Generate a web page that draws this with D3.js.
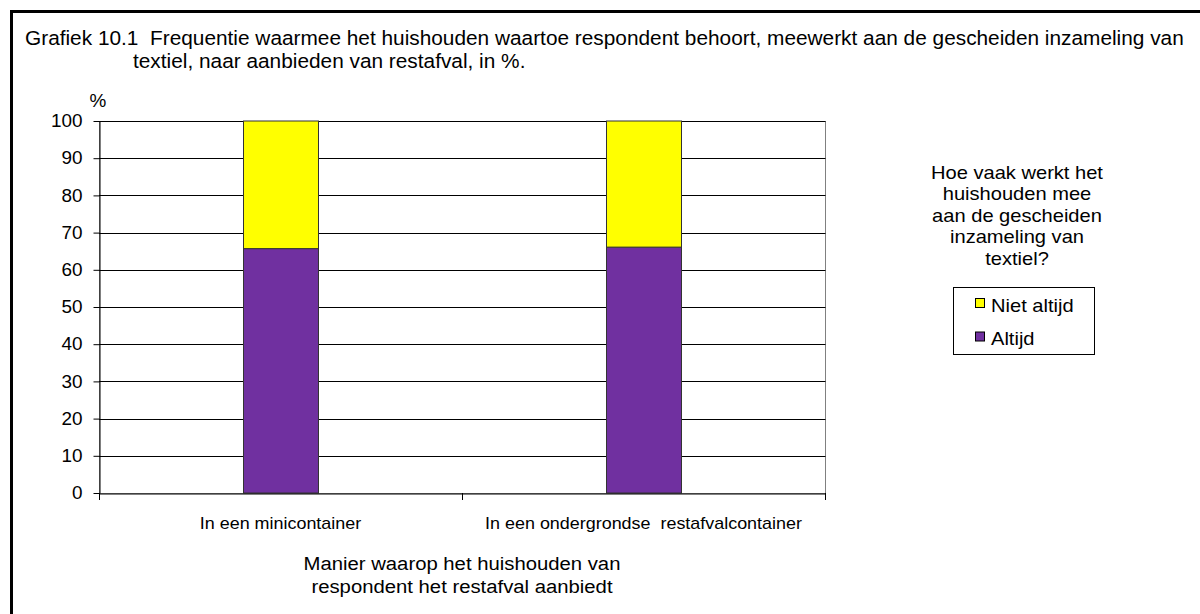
<!DOCTYPE html>
<html>
<head>
<meta charset="utf-8">
<script src="https://cdn.jsdelivr.net/npm/d3@7"></script>
<style>
  html, body { margin: 0; padding: 0; background: #fff; }
  svg { display: block; }
  text { font-family: "Liberation Sans", Arial, sans-serif; fill: #000; white-space: pre; }
</style>
</head>
<body>
<svg></svg>
<script>
var categories = ["In een minicontainer", "In een ondergrondse  restafvalcontainer"]
var altijd = [65.7, 66.1]
var nietAltijd = [34.3, 33.9]
var seriesNames = ["Altijd", "Niet altijd"]
var seriesColors = ["#7030a0", "#ffff00"]
var yTicks = [0, 10, 20, 30, 40, 50, 60, 70, 80, 90, 100]
var titleLines = [
  "Grafiek 10.1  Frequentie waarmee het huishouden waartoe respondent behoort, meewerkt aan de gescheiden inzameling van",
  "textiel, naar aanbieden van restafval, in %."
]
var xTitleLines = ["Manier waarop het huishouden van", "respondent het restafval aanbiedt"]
var legendTitleLines = ["Hoe vaak werkt het", "huishouden mee", "aan de gescheiden", "inzameling van", "textiel?"]

var width = 1200
var height = 614
var stretchK = 1.08
var plot = {left: 99, top: 121, right: 825, bottom: 493}

// excel renders its text a bit wider than Arial
function stretch(sel) {
  sel.each(function () {
    var w = this.getComputedTextLength()
    d3.select(this).attr("textLength", w * stretchK).attr("lengthAdjust", "spacingAndGlyphs")
  })
}

const svg = d3.select("svg")
  .attr("width", width)
  .attr("height", height)
  .attr("viewBox", [0, 0, width, height]);

svg.append("rect").attr("width", width).attr("height", height).attr("fill", "#fff");

// outer frame (only top and left visible)
svg.append("path")
  .attr("d", `M11.5,${height + 5}V11.5H${width + 5}`)
  .attr("fill", "none")
  .attr("stroke", "#000")
  .attr("stroke-width", 3);

// title
svg.append("text").attr("x", 25).attr("y", 45).style("font-size", "19.3px").text(titleLines[0]).call(stretch);
svg.append("text").attr("x", 133).attr("y", 67.5).style("font-size", "19.3px").text(titleLines[1]).call(stretch);

const table = categories.map((c, i) => ({cat: c, "Altijd": altijd[i], "Niet altijd": nietAltijd[i]}));
const stacked = d3.stack().keys(seriesNames)(table);

const x = d3.scaleBand()
  .domain(categories)
  .range([plot.left, plot.right])
  .paddingInner(0.7934)
  .paddingOuter(0.3967);

const y = d3.scaleLinear()
  .domain([0, 100])
  .range([plot.bottom, plot.top]);

// plot area border
svg.append("rect")
  .attr("x", plot.left + 0.5).attr("y", plot.top + 0.5)
  .attr("width", plot.right - plot.left).attr("height", plot.bottom - plot.top)
  .attr("fill", "#fff")
  .attr("stroke", "#808080");

// gridlines
svg.append("g")
  .selectAll("line")
  .data(yTicks.filter(t => t > 0))
  .join("line")
  .attr("x1", plot.left).attr("x2", plot.right + 0.5)
  .attr("y1", d => Math.round(y(d)) + 0.5).attr("y2", d => Math.round(y(d)) + 0.5)
  .attr("stroke", "#000");

// bars
svg.append("g")
  .selectAll("g")
  .data(stacked)
  .join("g")
  .attr("fill", (d, i) => seriesColors[i])
  .selectAll("rect")
  .data(d => d.map(v => ({v: v, cat: v.data.cat})))
  .join("rect")
  .attr("x", d => Math.round(x(d.cat)) + 0.5)
  .attr("y", d => y(d.v[1]))
  .attr("width", x.bandwidth())
  .attr("height", d => y(d.v[0]) - y(d.v[1]))
  .attr("stroke", "#333")
  .attr("stroke-width", 1);

// y axis
const yAxis = svg.append("g")
  .attr("transform", `translate(${plot.left + 0.5},0)`)
  .call(d3.axisLeft(y).tickValues(yTicks).tickSize(6).tickPadding(11).tickSizeOuter(0));
yAxis.select(".domain").attr("stroke", "#000");
yAxis.selectAll(".tick line").attr("stroke", "#000");
yAxis.selectAll(".tick text")
  .attr("fill", "#000")
  .style("font-size", "17.5px")
  .style("font-family", "'Liberation Sans', Arial, sans-serif")
  .call(stretch);

svg.append("text").attr("x", 98).attr("y", 107).attr("text-anchor", "middle")
  .style("font-size", "17.5px").text("%").call(stretch);

// x axis
const xAxis = svg.append("g")
  .attr("transform", `translate(0,${plot.bottom + 0.5})`)
  .call(d3.axisBottom(x).tickSize(0).tickPadding(24));
xAxis.select(".domain").attr("stroke", "#000");
xAxis.selectAll(".tick text")
  .attr("fill", "#000")
  .style("font-size", "16.6px")
  .style("font-family", "'Liberation Sans', Arial, sans-serif")
  .call(stretch);

// category separators on the x axis
const sepX = [plot.left, (x(categories[0]) + x.bandwidth() + x(categories[1])) / 2, plot.right];
svg.append("g")
  .selectAll("line")
  .data(sepX)
  .join("line")
  .attr("x1", d => Math.round(d) + 0.5).attr("x2", d => Math.round(d) + 0.5)
  .attr("y1", plot.bottom).attr("y2", plot.bottom + 7)
  .attr("stroke", "#000");

// x axis title
svg.append("g")
  .selectAll("text")
  .data(xTitleLines)
  .join("text")
  .attr("x", (plot.left + plot.right) / 2)
  .attr("y", (d, i) => 570 + i * 23)
  .attr("text-anchor", "middle")
  .style("font-size", "18.8px")
  .text(d => d)
  .call(stretch);

// legend
const legendX = 1017;
svg.append("g")
  .selectAll("text")
  .data(legendTitleLines)
  .join("text")
  .attr("x", legendX)
  .attr("y", (d, i) => 178.5 + i * 21.5)
  .attr("text-anchor", "middle")
  .style("font-size", "18.6px")
  .text(d => d)
  .call(stretch);

svg.append("rect")
  .attr("x", 953.5).attr("y", 287.5)
  .attr("width", 141).attr("height", 67)
  .attr("fill", "#fff").attr("stroke", "#000");

const legendItems = seriesNames.map((s, i) => ({name: s, color: seriesColors[i]})).reverse();
const li = svg.append("g")
  .selectAll("g")
  .data(legendItems)
  .join("g")
  .attr("transform", (d, i) => `translate(975,${298 + i * 33.5})`);
li.append("rect")
  .attr("x", 0.5).attr("y", 0.5)
  .attr("width", 9).attr("height", 9)
  .attr("fill", d => d.color)
  .attr("stroke", "#000");
li.append("text")
  .attr("x", 16).attr("y", 13.5)
  .style("font-size", "18.6px")
  .text(d => d.name)
  .call(stretch);
</script>
</body>
</html>
